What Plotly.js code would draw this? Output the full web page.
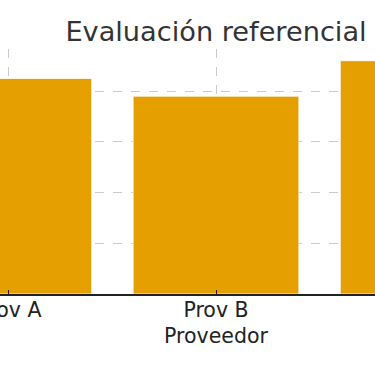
<!DOCTYPE html>
<html>
<head>
<meta charset="utf-8">
<script src="https://cdn.plot.ly/plotly-3.0.1.min.js"></script>
<style>
html,body{margin:0;padding:0;background:#fff;overflow:hidden;width:375px;height:366px;}
#wrap{position:relative;width:375px;height:366px;overflow:hidden;}
#chart{position:absolute;left:-103px;top:0;width:638px;height:366px;}
</style>
</head>
<body>
<div id="wrap"><div id="chart"></div></div>
<script>
const categories = ["Prov A", "Prov B", "Prov C"];
const scores = [4.25, 3.9, 4.6];
const chartTitle = "Evaluación referencial";
const xTitle = "Proveedor";

const trace = {
  type: "bar",
  x: categories,
  y: scores,
  width: 0.8,
  marker: { color: "#E69F00", line: { color: "#ffffff", width: 0.8 } },
  hoverinfo: "skip"
};

const layout = {
  width: 638, height: 366,
  margin: { l: 0, r: 0, t: 49, b: 72, pad: 0 },
  paper_bgcolor: "#ffffff", plot_bgcolor: "#ffffff",
  font: { family: "DejaVu Sans, sans-serif", color: "#222222" },
  showlegend: false,
  title: {
    text: chartTitle,
    font: { size: 27.2, color: "#333333", family: "DejaVu Sans, sans-serif" },
    xref: "paper", x: 0.5, xanchor: "center",
    yref: "container", y: 1 - 31/366, yanchor: "middle"
  },
  xaxis: {
    type: "category",
    range: [-0.54, 2.54],
    showgrid: true, gridcolor: "rgba(190,190,190,0.8)", griddash: "dash", gridwidth: 1,
    showline: true, linecolor: "#222222", linewidth: 1.5,
    ticks: "inside", ticklen: 4, tickcolor: "#222222", tickwidth: 1,
    tickfont: { size: 20.5, color: "#222222" },
    ticklabelstandoff: -3,
    title: { text: xTitle, font: { size: 20.5, color: "#222222" }, standoff: 7 },
    zeroline: false, layer: "above traces", fixedrange: true
  },
  yaxis: {
    range: [0, 4.83],
    dtick: 1,
    showgrid: true, gridcolor: "rgba(190,190,190,0.8)", griddash: "dash", gridwidth: 1,
    showticklabels: false, ticks: "",
    zeroline: false, showline: false, layer: "above traces", fixedrange: true
  }
};

Plotly.newPlot("chart", [trace], layout, { displayModeBar: false, staticPlot: true });
</script>
</body>
</html>
